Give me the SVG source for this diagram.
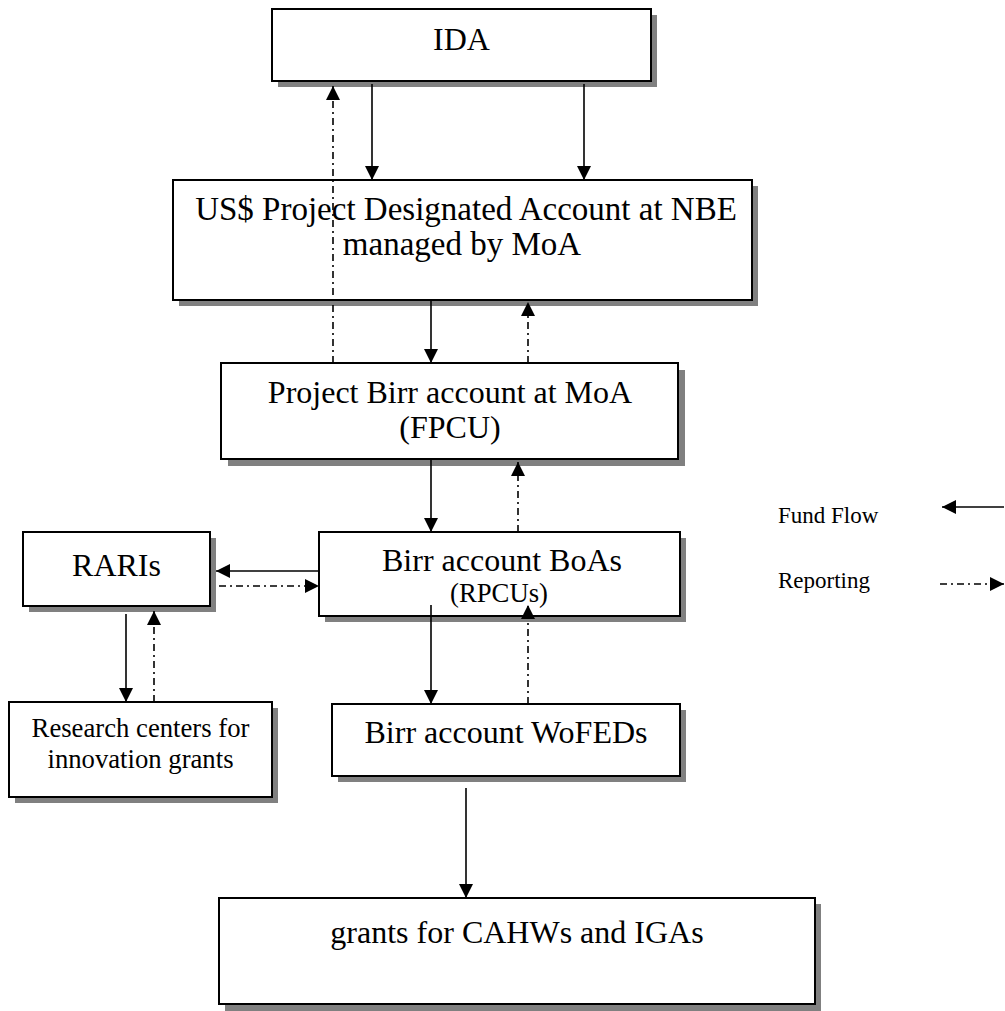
<svg xmlns="http://www.w3.org/2000/svg" width="1005" height="1011" viewBox="0 0 1005 1011">
<style>
.box{fill:#fff;stroke:#000;stroke-width:2}
.sh{fill:#808080}
.t{font-family:"Liberation Serif","Times New Roman",serif;fill:#000;text-anchor:middle}
.big{font-size:32px}
.med{font-size:26.7px}
.leg{font-family:"Liberation Serif","Times New Roman",serif;fill:#000;font-size:23px}
.fl{stroke:#000;stroke-width:1.6;fill:none;marker-end:url(#ah)}
.rp{stroke:#000;stroke-width:1.6;fill:none;stroke-dasharray:7 4 2 4;marker-end:url(#ah)}
</style>
<defs>
<marker id="ah" viewBox="0 0 10 10" refX="10" refY="5" markerWidth="9" markerHeight="9" markerUnits="strokeWidth" orient="auto">
<path d="M0,0 L10,5 L0,10 z" fill="#000"/>
</marker>
</defs>
<rect width="1005" height="1011" fill="#fff"/>
<g id="ida">
<rect class="sh" x="278" y="15" width="379" height="72"/>
<rect class="box" x="272" y="9" width="379" height="72"/>
<text class="t big" x="461.5" y="50">IDA</text>
</g>
<g id="usd">
<rect class="sh" x="179" y="186" width="579" height="120"/>
<rect class="box" x="173" y="180" width="579" height="120"/>
<text class="t" style="font-size:33px" x="466" y="220">US$ Project Designated Account at NBE</text>
<text class="t" style="font-size:33px" x="462" y="255">managed by MoA</text>
</g>
<g id="fpcu">
<rect class="sh" x="228" y="370" width="457" height="96"/>
<rect class="box" x="221" y="363" width="457" height="96"/>
<text class="t big" x="450" y="403">Project Birr account at MoA</text>
<text class="t big" x="450" y="438">(FPCU)</text>
</g>
<g id="raris">
<rect class="sh" x="29" y="538" width="187" height="74"/>
<rect class="box" x="23" y="532" width="187" height="74"/>
<text class="t big" x="116.5" y="576">RARIs</text>
</g>
<g id="boas">
<rect class="sh" x="325" y="538" width="361" height="84"/>
<rect class="box" x="319" y="532" width="361" height="84"/>
<text class="t big" x="502" y="571">Birr account BoAs</text>
<text class="t med" x="499" y="602">(RPCUs)</text>
</g>
<g id="research">
<rect class="sh" x="15" y="708" width="263" height="95"/>
<rect class="box" x="9" y="702" width="263" height="95"/>
<text class="t med" x="140.5" y="737">Research centers for</text>
<text class="t med" x="140.5" y="768">innovation grants</text>
</g>
<g id="wofeds">
<rect class="sh" x="338" y="710" width="348" height="72"/>
<rect class="box" x="332" y="704" width="348" height="72"/>
<text class="t big" x="506" y="743">Birr account WoFEDs</text>
</g>
<g id="grants">
<rect class="sh" x="225" y="904" width="596" height="107"/>
<rect class="box" x="219" y="898" width="596" height="106"/>
<text class="t big" x="517" y="943">grants for CAHWs and IGAs</text>
</g>
<g id="connectors">
<line class="fl" x1="372" y1="84" x2="372" y2="180"/>
<line class="fl" x1="584" y1="84" x2="584" y2="180"/>
<line class="rp" x1="333" y1="363" x2="333" y2="86"/>
<line class="fl" x1="431" y1="300" x2="431" y2="363"/>
<line class="rp" x1="528" y1="363" x2="528" y2="302"/>
<line class="fl" x1="431" y1="459" x2="431" y2="532"/>
<line class="rp" x1="518" y1="532" x2="518" y2="462"/>
<line class="fl" x1="319" y1="571" x2="216" y2="571"/>
<line class="rp" x1="219" y1="586" x2="319" y2="586"/>
<line class="fl" x1="126" y1="614" x2="126" y2="702"/>
<line class="rp" x1="154" y1="702" x2="154" y2="611"/>
<line class="fl" x1="431" y1="605" x2="431" y2="704"/>
<line class="rp" x1="528" y1="704" x2="528" y2="605"/>
<line class="fl" x1="466" y1="788" x2="466" y2="898"/>
</g>
<g id="legend">
<text class="leg" x="778" y="523">Fund Flow</text>
<line class="fl" x1="1004" y1="507" x2="942" y2="507"/>
<text class="leg" x="778" y="588">Reporting</text>
<line class="rp" x1="940" y1="584" x2="1004" y2="584"/>
</g>
</svg>
